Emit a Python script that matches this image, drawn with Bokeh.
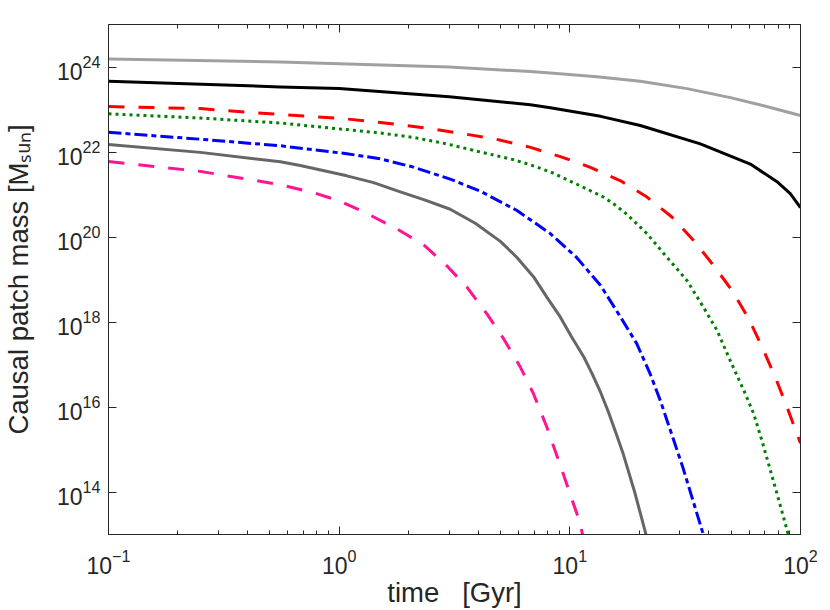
import numpy as np
from bokeh.plotting import figure
from bokeh.models import FixedTicker, LogAxis, LogTickFormatter, CustomJSTickFormatter
from bokeh.embed import file_html
from bokeh.resources import INLINE

# ---------------- data ----------------
# time [Gyr] and causal patch mass [M_sun] for each curve
t_lightgrey = [0.1, 0.556, 1.0, 3.0, 6.74, 8.23, 13.1, 20.2, 32.2, 49.7, 69.2, 100.0]
m_lightgrey = [1.55e24, 1.32e24, 1.2e24, 1.0e24, 7.8e23, 7.2e23, 5.9e23, 4.6e23, 3.1e23, 1.9e23, 1.23e23, 7.2e22]

t_black = [0.1, 0.556, 1.0, 3.0, 6.74, 8.23, 13.6, 20.2, 36.8, 60.6, 79.1, 90.3, 100.0]
m_black = [4.6e23, 3.4e23, 3.1e23, 2.0e23, 1.29e23, 1.1e23, 6.9e22, 4.2e22, 1.55e22, 5.2e21, 2.0e21, 1.05e21, 4.9e20]

t_red = [0.1, 0.25, 0.556, 0.736, 1.01, 1.39, 1.90, 2.61, 3.58, 4.91, 6.70, 9.1, 12.2, 16.6, 21.6, 27.7,
         34.4, 42.1, 50.5, 59.6, 68.1, 77.8, 87.4, 96.6, 100.0]
m_red = [1.17e23, 1.05e23, 7.6e22, 6.9e22, 6.2e22, 5.2e22, 4.3e22, 3.4e22, 2.6e22, 1.95e22, 1.3e22, 7.8e21,
         4.4e21, 2.1e21, 8.7e20, 2.95e20, 8.3e19, 2.1e19, 5.5e18, 1.2e18, 2.6e17, 5.0e16, 1.0e16, 2.3e15, 1.4e15]

t_green = [0.1, 0.25, 0.556, 1.51, 2.10, 2.93, 4.09, 5.7, 6.74, 8.23, 11.1, 14.0, 15.5, 17.7, 21.6, 26.4,
           32.2, 38.0, 43.5, 49.7, 56.7, 62.7, 68.1, 79.1, 88.3, 90.0]
m_green = [7.9e22, 6.3e22, 4.8e22, 2.8e22, 2.2e22, 1.55e22, 1.0e22, 6.6e21, 5.0e21, 3.4e21, 1.6e21, 8.7e20,
           6.0e20, 3.4e20, 1.2e20, 3.3e19, 9.5e18, 2.2e18, 6.3e17, 1.2e17, 2.5e16, 6.9e15, 1.6e15, 9.1e13,
           1.05e13, 7.2e12]

t_blue = [0.1, 0.25, 0.556, 1.08, 1.51, 2.10, 3.03, 4.09, 5.90, 8.23, 10.7, 13.6, 16.6, 19.5, 22.3, 24.7,
          30.9, 37.8, 38.7]
m_blue = [2.9e22, 2.0e22, 1.4e22, 9.1e21, 6.9e21, 4.4e21, 2.3e21, 1.2e21, 4.2e20, 1.2e20, 3.3e19, 7.2e18,
          1.3e18, 3.1e17, 6.0e16, 1.4e16, 3.8e14, 1.05e13, 6.9e12]

t_darkgrey = [0.1, 0.25, 0.556, 0.678, 1.08, 1.41, 1.84, 2.36, 3.03, 3.89, 5.0, 5.90, 6.97, 7.96, 9.10, 10.2,
              11.5, 12.5, 13.6, 14.7, 16.0, 17.1, 19.1, 21.2, 21.7]
m_darkgrey = [1.5e22, 9.8e21, 5.9e21, 4.8e21, 2.75e21, 1.9e21, 1.15e21, 7.4e20, 4.5e20, 2.1e20, 7.9e19, 3.3e19,
              1.15e19, 3.8e18, 1.3e18, 4.4e17, 1.5e17, 6.0e16, 2.2e16, 7.6e15, 2.1e15, 7.4e14, 1.0e14, 1.2e13,
              7.1e12]

t_pink = [0.1, 0.25, 0.556, 0.775, 1.0, 1.28, 1.78, 2.32, 2.93, 3.58, 4.37, 5.17, 6.10, 6.97, 7.96, 9.40,
          11.1, 11.5]
m_pink = [6.0e21, 3.5e21, 1.7e21, 1.1e21, 7.1e20, 3.9e20, 1.55e20, 6.6e19, 2.1e19, 6.6e18, 1.55e18, 4.0e17,
          8.7e16, 2.0e16, 3.3e15, 2.5e14, 1.8e13, 6.9e12]

x_major = [0.1, 1, 10, 100]
x_minor = [k * 10.0 ** d for d in (-1, 0, 1) for k in range(2, 10)]
y_major = [1e14, 1e16, 1e18, 1e20, 1e22, 1e24]

x_title = "time\u00a0\u00a0\u00a0[Gyr]"
y_title = "Causal patch mass [M\u209b\u1d64\u2099]"

# ---------------- figure ----------------
AX = "#262626"
FONT = "Liberation Sans"

p = figure(width=830, height=610, x_axis_type="log", y_axis_type="log",
           x_range=(0.1, 100), y_range=(1e13, 1e25),
           output_backend="svg", toolbar_location=None,
           min_border_left=108, min_border_right=30, min_border_top=24, min_border_bottom=76)
p.grid.visible = False
p.outline_line_color = AX
p.background_fill_color = "white"
p.border_fill_color = "white"

series = [
    (t_lightgrey, m_lightgrey, "#a0a0a0", "solid"),
    (t_black, m_black, "#000000", "solid"),
    (t_red, m_red, "#ff0000", "16 14"),
    (t_green, m_green, "#008000", "3 4"),
    (t_blue, m_blue, "#0000ff", "13 4 5 4"),
    (t_darkgrey, m_darkgrey, "#666666", "solid"),
    (t_pink, m_pink, "#ff1493", "16 14"),
]
for t, m, c, d in series:
    p.line(t, m, line_color=c, line_width=3, line_dash=d, line_join="round")

xt = FixedTicker(ticks=x_major, minor_ticks=x_minor)
yt = FixedTicker(ticks=y_major, minor_ticks=[])

def style(ax):
    ax.axis_line_color = AX
    ax.major_tick_line_color = AX
    ax.minor_tick_line_color = AX
    ax.major_tick_in = 8
    ax.major_tick_out = 0
    ax.minor_tick_in = 4
    ax.minor_tick_out = 0
    ax.major_label_text_color = AX
    ax.major_label_text_font = FONT
    ax.major_label_text_font_size = "23px"
    ax.axis_label_text_color = AX
    ax.axis_label_text_font = FONT
    ax.axis_label_text_font_size = "27.5px"
    ax.axis_label_text_font_style = "normal"

xa = p.xaxis[0]
xa.ticker = xt
xa.formatter = LogTickFormatter()
style(xa)
xa.major_label_standoff = 14
xa.axis_label = x_title
xa.axis_label_standoff = 0

ya = p.yaxis[0]
ya.ticker = yt
ya.formatter = LogTickFormatter()
style(ya)
ya.major_label_standoff = 8
ya.axis_label = y_title
ya.axis_label_standoff = 20

top = LogAxis(ticker=xt, formatter=CustomJSTickFormatter(code="return ''"))
style(top)
top.major_label_text_font_size = "0px"
top.major_label_standoff = 0
p.add_layout(top, "above")

right = LogAxis(ticker=yt, formatter=CustomJSTickFormatter(code="return ''"))
style(right)
right.major_label_text_font_size = "0px"
right.major_label_standoff = 0
p.add_layout(right, "right")

open("out.html", "w").write(file_html(p, INLINE))
